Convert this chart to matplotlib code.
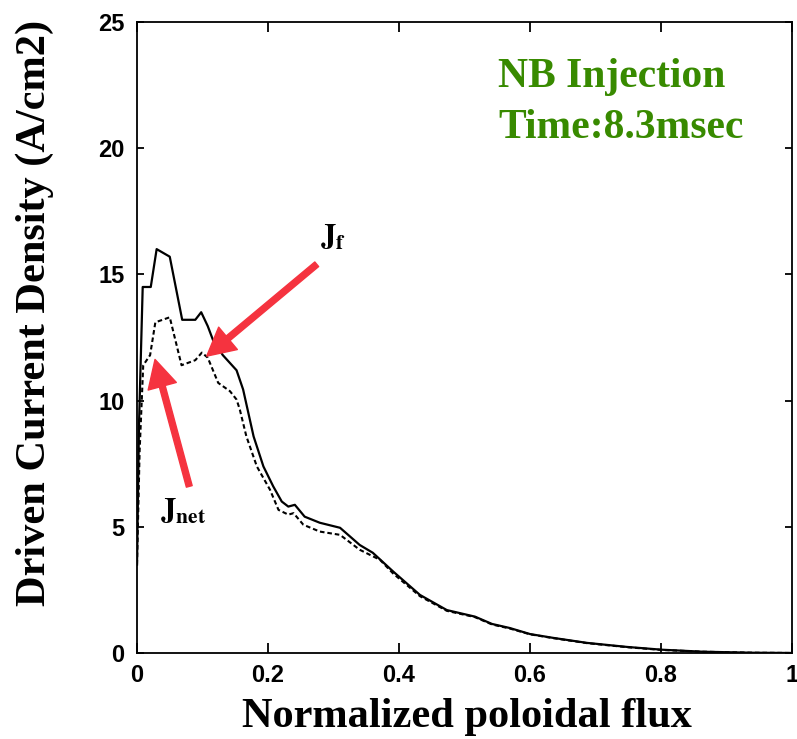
import matplotlib
matplotlib.use("Agg")
import matplotlib.pyplot as plt

plt.rcParams['mathtext.fontset'] = 'stix'

# J_f (solid)
psi_f = [0.0, 0.003, 0.0087, 0.021, 0.030, 0.050, 0.069, 0.089, 0.098, 0.108,
         0.116, 0.131, 0.152, 0.162, 0.178, 0.193, 0.208, 0.221, 0.231, 0.241,
         0.256, 0.279, 0.310, 0.340, 0.360, 0.391, 0.432, 0.473, 0.516, 0.542,
         0.569, 0.600, 0.635, 0.687, 0.748, 0.801, 0.864, 0.940, 1.0]
j_f = [3.5, 9.0, 14.5, 14.5, 16.0, 15.7, 13.2, 13.2, 13.5, 12.95,
       12.4, 11.8, 11.2, 10.44, 8.58, 7.39, 6.6, 6.0, 5.8, 5.87,
       5.4, 5.16, 4.96, 4.28, 3.97, 3.23, 2.3, 1.7, 1.44, 1.15,
       0.99, 0.75, 0.60, 0.40, 0.24, 0.13, 0.05, 0.01, 0.0]

# J_net (dashed)
psi_net = [0.0, 0.004, 0.0095, 0.020, 0.028, 0.050, 0.068, 0.089, 0.099, 0.108,
           0.124, 0.142, 0.152, 0.157, 0.167, 0.183, 0.203, 0.216, 0.231, 0.239,
           0.254, 0.279, 0.310, 0.340, 0.371, 0.391, 0.432, 0.473, 0.516, 0.542,
           0.569, 0.600, 0.635, 0.687, 0.748, 0.801, 0.864, 0.940, 1.0]
j_net = [3.5, 8.0, 11.4, 11.8, 13.1, 13.3, 11.4, 11.6, 11.9, 11.7,
         10.7, 10.37, 10.04, 9.64, 8.58, 7.39, 6.47, 5.67, 5.48, 5.54,
         5.08, 4.81, 4.68, 4.09, 3.69, 3.15, 2.25, 1.67, 1.42, 1.13,
         0.97, 0.74, 0.59, 0.39, 0.23, 0.12, 0.05, 0.01, 0.0]

x_ticks = [0, 0.2, 0.4, 0.6, 0.8, 1]
x_ticklabels = ['0', '0.2', '0.4', '0.6', '0.8', '1']
y_ticks = [0, 5, 10, 15, 20, 25]

RED = '#f5333f'
GREEN = '#388a00'
serif = 'Liberation Serif'
sans = 'Liberation Sans'

fig = plt.figure(figsize=(7.97, 7.39), dpi=100)
ax = fig.add_axes([0.1719, 0.1164, 0.8218, 0.8539])

ax.plot(psi_f, j_f, color='black', lw=1.6)
ax.plot(psi_net, j_net, color='black', lw=1.5, dashes=(2.2, 1.4))

ax.set_xlim(0, 1)
ax.set_ylim(0, 25)
ax.set_xticks(x_ticks)
ax.set_xticklabels(x_ticklabels)
ax.set_yticks(y_ticks)
for lab in ax.get_xticklabels() + ax.get_yticklabels():
    lab.set_fontfamily(sans)
    lab.set_fontweight('bold')
    lab.set_fontsize(17)
ax.tick_params(axis='x', direction='in', length=7, width=1.3, top=True, pad=8)
ax.tick_params(axis='y', direction='in', length=5, width=1.3, right=True, pad=9)
for sp in ax.spines.values():
    sp.set_linewidth(1.3)

# arrows
arrow_style = 'simple,head_length=2.0,head_width=2.1,tail_width=0.43'
ax.annotate('', xy=(0.1064, 11.76), xytext=(0.2744, 15.4),
            arrowprops=dict(arrowstyle=arrow_style, mutation_scale=10,
                            color=RED, shrinkA=0, shrinkB=0))
ax.annotate('', xy=(0.0275, 11.63), xytext=(0.0798, 6.6),
            arrowprops=dict(arrowstyle=arrow_style, mutation_scale=10,
                            color=RED, shrinkA=0, shrinkB=0))

fig.text(0.4015, 0.667, r'$\mathbf{J}_{\mathbf{f}}$', fontsize=22,
         ha='left', va='baseline')
fig.text(0.2008, 0.296, r'$\mathbf{J}_{\mathbf{net}}$', fontsize=22,
         ha='left', va='baseline')

fig.text(0.625, 0.882, 'NB Injection', color=GREEN, fontsize=30,
         fontfamily=serif, fontweight='bold', ha='left', va='baseline')
fig.text(0.625, 0.813, 'Time:8.3msec', color=GREEN, fontsize=30,
         fontfamily=serif, fontweight='bold', ha='left', va='baseline')

fig.text(0.5853, 0.0162, 'Normalized poloidal flux', fontsize=30.5,
         fontfamily=serif, fontweight='bold', ha='center', va='baseline')
fig.text(0.044, 0.5765, 'Driven Current Density (A/cm2)', fontsize=30.5,
         fontfamily=serif, fontweight='bold', ha='center', va='center',
         rotation=90)

fig.savefig('out.png', dpi=100)
